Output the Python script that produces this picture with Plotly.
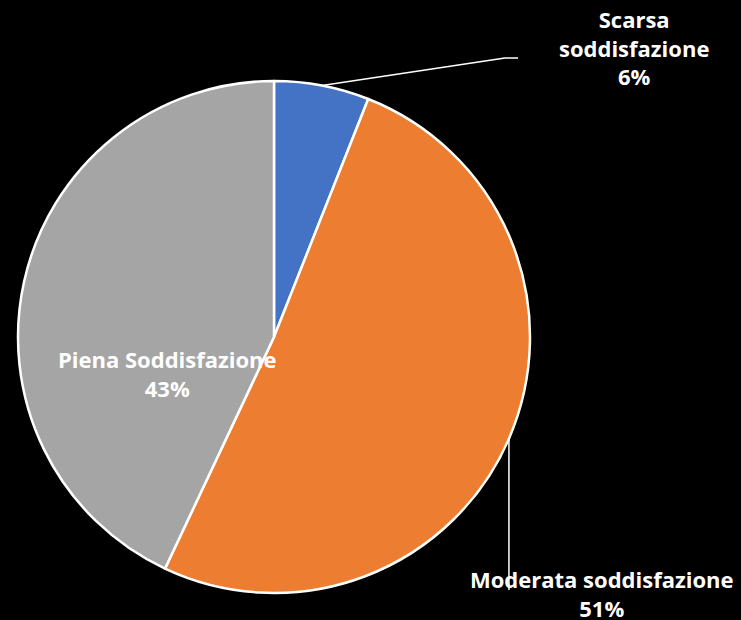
import math
import plotly.graph_objects as go

# Dati del grafico
labels = ["Scarsa soddisfazione", "Moderata soddisfazione", "Piena Soddisfazione"]
values = [6, 51, 43]
colors = ["#4472C4", "#ED7D31", "#A5A5A5"]

W, H = 741, 620
cx, cy, r = 274, 337, 256  # centro e raggio della torta in pixel


def px(x, y):
    return x / W, 1 - y / H


def edge_point(idx):
    # punto sul bordo a metà della fetta (senso orario da ore 12)
    total = sum(values)
    start = sum(values[:idx]) / total
    mid = (start + values[idx] / total / 2) * 2 * math.pi
    return cx + r * math.sin(mid), cy - r * math.cos(mid)


fig = go.Figure()
fig.add_trace(
    go.Pie(
        labels=labels,
        values=values,
        sort=False,
        direction="clockwise",
        rotation=0,
        marker=dict(colors=colors, line=dict(color="white", width=2.5)),
        textinfo="none",
        hoverinfo="skip",
        showlegend=False,
        domain=dict(x=[(cx - r) / W, (cx + r) / W], y=[1 - (cy + r) / H, 1 - (cy - r) / H]),
    )
)

font = dict(family="Open Sans", size=22, color="white", weight="bold")
pct = [f"{v}%" for v in values]

annotations = [
    dict(x=634, y=48, text="Scarsa<br>soddisfazione<br>" + pct[0]),
    dict(x=602, y=593, text="Moderata soddisfazione<br>" + pct[1]),
    dict(x=167, y=373, text="Piena Soddisfazione<br>" + pct[2]),
]
for a in annotations:
    ax, ay = px(a["x"], a["y"])
    fig.add_annotation(x=ax, y=ay, xref="paper", yref="paper", text=a["text"],
                       showarrow=False, font=font, align="center",
                       xanchor="center", yanchor="middle")

# linee di richiamo
sx, sy = edge_point(0)
pts = [px(sx, sy), px(505, 58), px(518, 58)]
mx, my = edge_point(1)
pts2 = [px(mx, my), px(mx, 590)]
lines = []
for seq in (pts, pts2):
    for (x0, y0), (x1, y1) in zip(seq[:-1], seq[1:]):
        lines.append(dict(type="line", xref="paper", yref="paper", x0=x0, y0=y0,
                          x1=x1, y1=y1, line=dict(color="white", width=1.5)))

fig.update_layout(
    width=W,
    height=H,
    margin=dict(l=0, r=0, t=0, b=0),
    paper_bgcolor="black",
    plot_bgcolor="black",
    shapes=lines,
)

fig.write_html(
    "out.html",
    config={"displayModeBar": False},
    post_script="document.body.style.margin='0';document.body.style.background='black';",
)
